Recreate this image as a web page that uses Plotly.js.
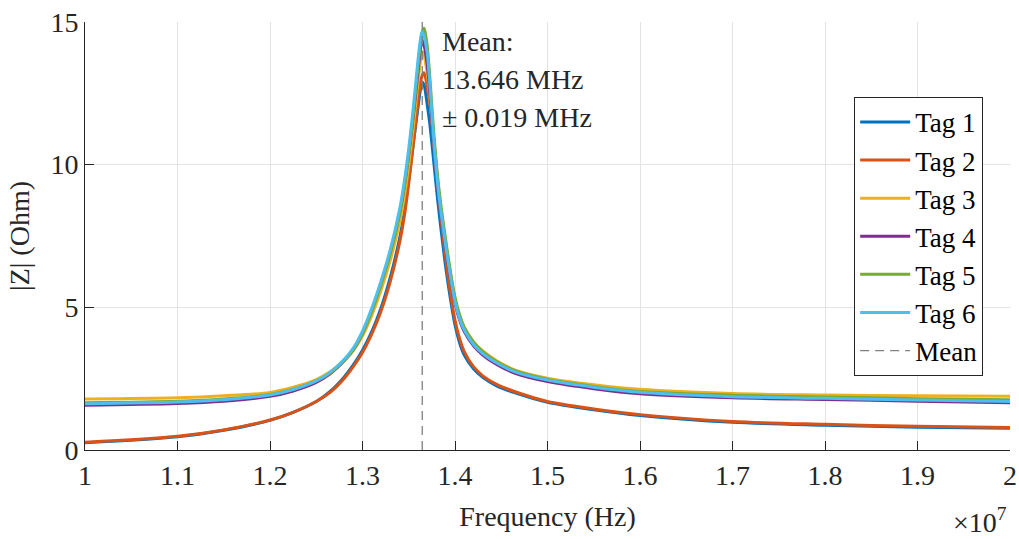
<!DOCTYPE html>
<html>
<head>
<meta charset="utf-8">
<script src="https://cdn.plot.ly/plotly-3.0.1.min.js"></script>
<style>html,body{margin:0;padding:0;background:#fff;}#chart{width:1019px;height:539px;}</style>
</head>
<body>
<div id="chart"></div>
<script>
// Frequency samples (MHz)
const freqMHz = [10, 11, 11.5, 12, 12.25, 12.5, 12.65, 12.8, 12.9, 13.0, 13.1, 13.2, 13.3, 13.4, 13.45, 13.5, 13.55, 13.6, 13.625, 13.645, 13.665, 13.685, 13.7, 13.725, 13.75, 13.775, 13.8, 13.825, 13.85, 13.9, 13.95, 14.0, 14.05, 14.1, 14.2, 14.3, 14.45, 14.65, 15, 15.5, 16, 17, 18, 19, 20];

// |Z| (Ohm) per tag
const tag1 = [0.25, 0.46, 0.69, 1.04, 1.32, 1.7, 2.05, 2.55, 2.98, 3.5, 4.15, 4.98, 6.05, 7.4, 8.3, 9.45, 10.75, 12.0, 12.6, 12.9, 12.8, 12.45, 12.1, 11.5, 10.75, 9.95, 9.15, 8.4, 7.7, 6.4, 5.3, 4.38, 3.75, 3.33, 2.85, 2.55, 2.25, 2.0, 1.67, 1.41, 1.21, 0.97, 0.87, 0.8, 0.76];
const tag2 = [0.27, 0.48, 0.7, 1.05, 1.32, 1.7, 2.02, 2.5, 2.92, 3.42, 4.06, 4.86, 5.9, 7.25, 8.15, 9.35, 10.75, 12.2, 12.85, 13.12, 13.22, 13.0, 12.7, 12.2, 11.55, 10.75, 9.85, 8.95, 8.1, 6.7, 5.5, 4.55, 3.9, 3.45, 2.92, 2.6, 2.3, 2.04, 1.7, 1.44, 1.24, 1.0, 0.9, 0.83, 0.79];
const tag3 = [1.79, 1.83, 1.9, 2.02, 2.2, 2.47, 2.74, 3.13, 3.48, 4.0, 4.72, 5.6, 6.65, 7.95, 8.85, 9.98, 11.35, 12.9, 13.6, 13.96, 13.85, 13.5, 13.2, 12.45, 11.55, 10.6, 9.75, 8.98, 8.35, 7.22, 6.2, 5.3, 4.7, 4.3, 3.8, 3.47, 3.13, 2.8, 2.52, 2.29, 2.13, 1.98, 1.93, 1.9, 1.88];
const tag4 = [1.57, 1.63, 1.71, 1.88, 2.07, 2.37, 2.67, 3.12, 3.52, 4.1, 4.9, 5.85, 6.93, 8.3, 9.22, 10.38, 11.75, 13.25, 14.0, 14.37, 14.2, 13.85, 13.5, 12.65, 11.6, 10.6, 9.68, 8.9, 8.25, 7.1, 6.05, 5.15, 4.55, 4.15, 3.65, 3.33, 3.0, 2.69, 2.4, 2.15, 1.97, 1.83, 1.77, 1.71, 1.66];
const tag5 = [1.66, 1.71, 1.79, 1.95, 2.13, 2.42, 2.7, 3.12, 3.5, 4.08, 4.86, 5.8, 6.88, 8.25, 9.18, 10.35, 11.8, 13.45, 14.2, 14.65, 14.78, 14.5, 14.15, 13.2, 12.05, 10.95, 10.0, 9.2, 8.52, 7.35, 6.27, 5.35, 4.73, 4.3, 3.78, 3.45, 3.1, 2.78, 2.48, 2.23, 2.05, 1.92, 1.86, 1.8, 1.76];
const tag6 = [1.62, 1.68, 1.76, 1.93, 2.12, 2.42, 2.72, 3.17, 3.57, 4.17, 4.97, 5.92, 7.02, 8.42, 9.37, 10.57, 12.02, 13.67, 14.35, 14.66, 14.52, 14.2, 13.9, 12.95, 11.8, 10.7, 9.75, 8.95, 8.3, 7.15, 6.1, 5.2, 4.6, 4.2, 3.7, 3.38, 3.05, 2.74, 2.45, 2.2, 2.02, 1.87, 1.81, 1.75, 1.70];

const tagNames = ['Tag 1', 'Tag 2', 'Tag 3', 'Tag 4', 'Tag 5', 'Tag 6'];
const tagColors = ['#0072BD', '#D95319', '#EDB120', '#7E2F8E', '#77AC30', '#4DBEEE'];

const meanMHz = 13.646;
const stdMHz = 0.019;
const yRange = [0, 15];

const xTickVals = [1.0, 1.1, 1.2, 1.3, 1.4, 1.5, 1.6, 1.7, 1.8, 1.9, 2.0];
const xTickText = ['1', '1.1', '1.2', '1.3', '1.4', '1.5', '1.6', '1.7', '1.8', '1.9', '2'];
const yTickVals = [0, 5, 10, 15];

const FONT = 'Liberation Serif, Times New Roman, serif';
const TXT = '#262626';
const FS = 28;

const freqHz = freqMHz.map(f => f * 1e6);
const series = [tag1, tag2, tag3, tag4, tag5, tag6];

const traces = series.map((vals, i) => ({
  x: freqHz, y: vals, type: 'scatter', mode: 'lines', name: tagNames[i],
  line: {color: tagColors[i], width: 3, shape: 'spline', smoothing: 0.9}
}));
traces.push({
  x: [meanMHz * 1e6, meanMHz * 1e6], y: yRange, type: 'scatter', mode: 'lines', name: 'Mean',
  line: {color: '#808080', width: 1.3, dash: '9px,6px'}
});

const layout = {
  width: 1019, height: 539,
  margin: {l: 85, r: 9, t: 22, b: 89},
  paper_bgcolor: '#fff', plot_bgcolor: '#fff',
  font: {family: FONT, size: FS, color: TXT},
  showlegend: true,
  legend: {x: 0.971, y: 0.825, xanchor: 'right', yanchor: 'top', bgcolor: '#fff', itemwidth: 50,
           bordercolor: TXT, borderwidth: 1, font: {family: FONT, size: 27, color: '#000'}},
  xaxis: {
    range: [1e7, 2e7], tickvals: xTickVals.map(v => v * 1e7), ticktext: xTickText,
    showline: true, linecolor: TXT, linewidth: 1, mirror: false,
    ticks: 'inside', ticklen: 9, tickcolor: TXT, tickwidth: 1,
    showgrid: true, gridcolor: '#e3e3e3', zeroline: false,
    tickfont: {family: FONT, size: FS, color: TXT},
    title: {text: 'Frequency (Hz)', font: {family: FONT, size: FS, color: TXT}, standoff: 16}
  },
  yaxis: {
    range: yRange, tickvals: yTickVals,
    showline: true, linecolor: TXT, linewidth: 1, mirror: false,
    ticks: 'inside', ticklen: 9, tickcolor: TXT, tickwidth: 1,
    showgrid: true, gridcolor: '#e3e3e3', zeroline: false,
    tickfont: {family: FONT, size: FS, color: TXT},
    title: {text: '|Z| (Ohm)', font: {family: FONT, size: FS, color: TXT}, standoff: 12}
  },
  annotations: [
    {x: meanMHz * 1e6, y: 14.3, xref: 'x', yref: 'y', xanchor: 'left', yanchor: 'middle', xshift: 18,
     text: 'Mean:', showarrow: false, font: {family: FONT, size: FS, color: TXT}},
    {x: meanMHz * 1e6, y: 13.0, xref: 'x', yref: 'y', xanchor: 'left', yanchor: 'middle', xshift: 18,
     text: meanMHz.toFixed(3) + ' MHz', showarrow: false, font: {family: FONT, size: FS, color: TXT}},
    {x: meanMHz * 1e6, y: 11.67, xref: 'x', yref: 'y', xanchor: 'left', yanchor: 'middle', xshift: 18,
     text: '± ' + stdMHz.toFixed(3) + ' MHz', showarrow: false, font: {family: FONT, size: FS, color: TXT}},
    {x: 0.999, y: -0.2, xref: 'paper', yref: 'paper', xanchor: 'right', yanchor: 'bottom', yshift: -4,
     text: '×10<sup>7</sup>', showarrow: false, font: {family: FONT, size: FS, color: TXT}}
  ]
};

Plotly.newPlot('chart', traces, layout, {displayModeBar: false, staticPlot: true});
</script>
</body>
</html>
